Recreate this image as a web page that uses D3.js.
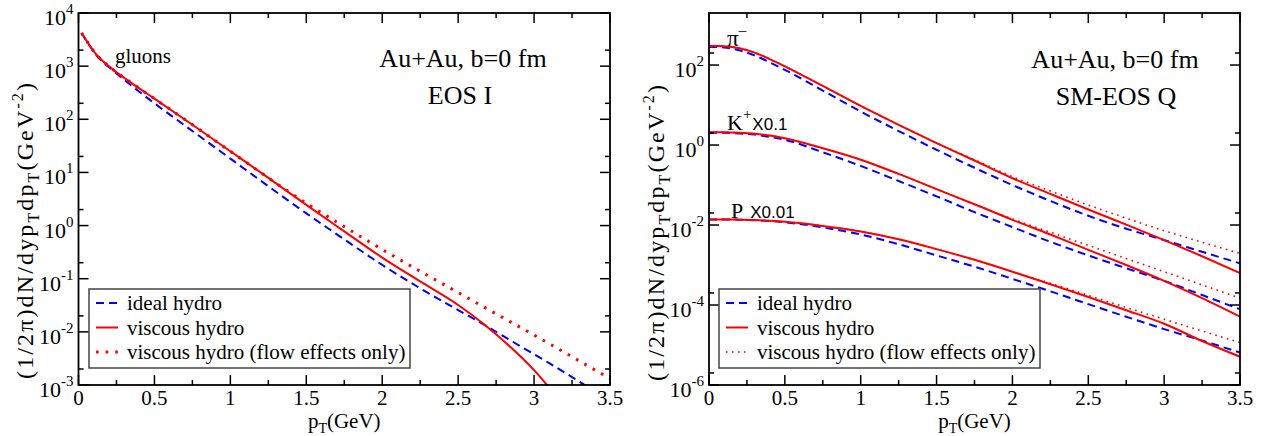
<!DOCTYPE html>
<html>
<head>
<meta charset="utf-8">
<script src="https://cdn.jsdelivr.net/npm/d3@7"></script>
<style>
  body { margin: 0; background: #fff; }
</style>
</head>
<body>
<svg width="1268" height="436" font-family="'Liberation Serif', 'Times New Roman', 'DejaVu Serif', serif"></svg>
<script>
// ===== DATA =====

// left panel: gluons, EOS I
var gluonPt    = [0.02, 0.12, 0.23, 0.35, 0.5, 0.75, 1, 1.25, 1.5, 1.75, 2, 2.25, 2.5, 2.68, 2.85, 3, 3.1, 3.25, 3.5];
var gluonIdeal = [4200, 1580, 813, 427, 200, 60.3, 18.2, 5.5, 1.7, 0.55, 0.182, 0.066, 0.0257, 0.0132, 0.00676, 0.0038, 0.00257, 0.00141, 5.0e-4];
var gluonVisc  = [4200, 1620, 850, 480, 245, 79, 25, 7.9, 2.45, 0.78, 0.25, 0.089, 0.032, 0.0132, 0.0050, 0.0019, 8.9e-4, null, null];
var gluonFlow  = [4200, 1620, 850, 480, 245, 79, 25, 7.9, 2.63, 0.955, 0.355, 0.138, 0.055, 0.0282, 0.0151, 0.0087, 0.006, 0.0034, 0.00132];

// right panel: identified hadrons, SM-EOS Q
var hadronPt   = [0, 0.1, 0.2, 0.3, 0.4, 0.5, 0.75, 1, 1.25, 1.5, 1.75, 2, 2.25, 2.5, 2.75, 3, 3.25, 3.5];
var pionIdeal  = [288, 275, 234, 174, 117, 76, 23, 6.9, 2.24, 0.76, 0.27, 0.10, 0.040, 0.017, 0.0081, 0.0042, 0.00214, 0.0011];
var pionVisc   = [302, 295, 263, 204, 141, 93, 30, 9.5, 3.2, 1.12, 0.41, 0.148, 0.060, 0.0245, 0.0102, 0.0042, 0.00166, 6.3e-4];
var pionFlow   = [302, 295, 263, 204, 141, 93, 30, 9.5, 3.2, 1.12, 0.43, 0.162, 0.071, 0.0316, 0.0148, 0.0072, 0.0037, 0.00195];
var kaonIdeal  = [2.04, 2.02, 1.95, 1.82, 1.6, 1.35, 0.66, 0.30, 0.126, 0.052, 0.021, 0.0089, 0.0038, 0.00174, 8.3e-4, 4.0e-4, 1.78e-4, 7.8e-5];
var kaonVisc   = [2.09, 2.08, 2.02, 1.91, 1.72, 1.48, 0.83, 0.43, 0.19, 0.079, 0.033, 0.0135, 0.0058, 0.0024, 0.0010, 4.0e-4, 1.48e-4, 5.1e-5];
var kaonFlow   = [2.09, 2.08, 2.02, 1.91, 1.72, 1.48, 0.83, 0.43, 0.19, 0.079, 0.033, 0.0141, 0.0066, 0.0031, 0.00145, 6.8e-4, 3.2e-4, 1.48e-4];
var protonIdeal = [0.0138, 0.0138, 0.0136, 0.0132, 0.0126, 0.0117, 0.0087, 0.0058, 0.0033, 0.00174, 9.1e-4, 4.5e-4, 2.2e-4, 1.05e-4, 5.1e-5, 2.5e-5, 1.29e-5, 6.5e-6];
var protonVisc  = [0.0138, 0.0138, 0.0136, 0.0133, 0.0127, 0.0120, 0.0095, 0.0069, 0.0044, 0.0025, 0.00135, 6.8e-4, 3.3e-4, 1.58e-4, 7.4e-5, 3.4e-5, 1.26e-5, 5.1e-6];
var protonFlow  = [0.0138, 0.0138, 0.0136, 0.0133, 0.0127, 0.0120, 0.0095, 0.0069, 0.0044, 0.0025, 0.00135, 6.8e-4, 3.5e-4, 1.74e-4, 8.7e-5, 4.4e-5, 2.24e-5, 1.15e-5];

// axes
var xTicks = [0, 0.5, 1, 1.5, 2, 2.5, 3, 3.5];
var leftExp = [-3, -2, -1, 0, 1, 2, 3, 4];
var rightExp = [-6, -4, -2, 0, 2];
var legendLabels = ["ideal hydro", "viscous hydro", "viscous hydro (flow effects only)"];

var svg = d3.select("svg");
var SANS = "'Liberation Sans', Arial, sans-serif";

function zip(xs, ys) {
  return xs.map(function(x, i) { return {x: x, y: ys[i]}; });
}

/* ===== PANEL ===== */
function panel(opt) {
  var x = d3.scaleLinear().domain([0, 3.5]).range([opt.left, opt.right]);
  var y = d3.scaleLog().domain(opt.yDomain).range([opt.bottom, opt.top]);
  var g = svg.append("g");

  g.append("clipPath").attr("id", opt.id)
    .append("rect")
      .attr("x", opt.left).attr("y", opt.top)
      .attr("width", opt.right - opt.left).attr("height", opt.bottom - opt.top);

  var line = d3.line()
      .defined(function(d) { return d.y != null; })
      .x(function(d) { return x(d.x); })
      .y(function(d) { return y(d.y); })
      .curve(d3.curveMonotoneX);

  var curves = g.append("g").attr("clip-path", "url(#" + opt.id + ")");
  opt.series.forEach(function(s) {
    curves.append("path")
      .datum(zip(s.x, s.y))
      .attr("fill", "none")
      .attr("stroke", s.color)
      .attr("stroke-width", s.width)
      .attr("stroke-dasharray", s.dash)
      .attr("d", line);
  });

  // x ticks, bottom + top, inward
  var minorX = d3.range(0.25, 3.5, 0.5);
  [opt.bottom, opt.top].forEach(function(yy, k) {
    var dir = k === 0 ? -1 : 1;
    g.selectAll(null).data(xTicks).enter().append("line")
      .attr("x1", x).attr("x2", x)
      .attr("y1", yy).attr("y2", yy + dir * 10)
      .attr("stroke", "#000").attr("stroke-width", 1.5);
    g.selectAll(null).data(minorX).enter().append("line")
      .attr("x1", x).attr("x2", x)
      .attr("y1", yy).attr("y2", yy + dir * 5)
      .attr("stroke", "#000").attr("stroke-width", 1.5);
  });

  // y ticks, left + right, inward
  var majorY = opt.yMajor.map(function(e) { return Math.pow(10, e); });
  var minorY = opt.yMajor.map(function(e) { return 2 * Math.pow(10, e); })
      .filter(function(v) { return v < opt.yDomain[1]; });
  [opt.left, opt.right].forEach(function(xx, k) {
    var dir = k === 0 ? 1 : -1;
    g.selectAll(null).data(majorY).enter().append("line")
      .attr("x1", xx).attr("x2", xx + dir * 10)
      .attr("y1", y).attr("y2", y)
      .attr("stroke", "#000").attr("stroke-width", 1.5);
    g.selectAll(null).data(minorY).enter().append("line")
      .attr("x1", xx).attr("x2", xx + dir * 5)
      .attr("y1", y).attr("y2", y)
      .attr("stroke", "#000").attr("stroke-width", 1.5);
  });

  g.append("rect")
    .attr("x", opt.left).attr("y", opt.top)
    .attr("width", opt.right - opt.left).attr("height", opt.bottom - opt.top)
    .attr("fill", "none").attr("stroke", "#000").attr("stroke-width", 1.8);

  // tick labels
  g.selectAll(null).data(xTicks).enter().append("text")
    .attr("x", x).attr("y", opt.bottom + 20)
    .attr("text-anchor", "middle")
    .attr("font-size", 21)
    .text(function(d) { return d; });

  var yl = g.selectAll(null).data(opt.yMajor).enter().append("text")
    .attr("x", opt.left - 5)
    .attr("y", function(e) { return y(Math.pow(10, e)) + 12; })
    .attr("text-anchor", "end")
    .attr("font-size", 22);
  yl.append("tspan").text("10");
  yl.append("tspan").attr("dy", -11).attr("font-size", 15).text(function(e) { return e; });

  // axis titles
  var xt = g.append("text")
    .attr("x", (opt.left + opt.right) / 2).attr("y", opt.bottom + 43)
    .attr("text-anchor", "middle").attr("font-size", 21);
  xt.append("tspan").text("p");
  xt.append("tspan").attr("dy", 5).attr("font-size", 14).text("T");
  xt.append("tspan").attr("dy", -5).text("(GeV)");

  // long rotated title, stretched to the reference's length
  var yt = g.append("text")
    .attr("transform", "translate(" + opt.yTitleX + "," + opt.yTitleY + ") rotate(-90)")
    .attr("text-anchor", "middle").attr("font-size", 24)
    .attr("textLength", 296).attr("lengthAdjust", "spacing");
  yt.append("tspan").text("(1/2\u03c0)dN/dyp");
  yt.append("tspan").attr("dy", 6).attr("font-size", 16).text("T");
  yt.append("tspan").attr("dy", -6).text("dp");
  yt.append("tspan").attr("dy", 6).attr("font-size", 16).text("T");
  yt.append("tspan").attr("dy", -6).text("(GeV");
  yt.append("tspan").attr("dy", -10).attr("font-size", 16).text("-2");
  yt.append("tspan").attr("dy", 10).text(")");

  // legend
  var lg = g.append("g");
  lg.append("rect")
    .attr("x", opt.legX).attr("y", 289)
    .attr("width", 321).attr("height", 79)
    .attr("fill", "#fff").attr("stroke", "#444").attr("stroke-width", 1.5);
  opt.legendStyles.forEach(function(s, i) {
    var ly = 303 + i * 24.5;
    lg.append("line")
      .attr("x1", opt.legX + 7).attr("x2", opt.legX + 29)
      .attr("y1", ly).attr("y2", ly)
      .attr("stroke", s.color).attr("stroke-width", s.width)
      .attr("stroke-dasharray", s.dash);
    lg.append("text")
      .attr("x", opt.legX + 38).attr("y", ly + 7)
      .attr("font-size", 21)
      .text(legendLabels[i]);
  });

  return {x: x, y: y, g: g};
}

var bigDot = "2.6,7";
var smallDot = "1.6,4.4";
var dashed = "8,5";

var leftP = panel({
  id: "clipL", left: 78.5, right: 610, top: 13, bottom: 385,
  yDomain: [1e-3, 1e4], yMajor: leftExp,
  yTitleX: 33, yTitleY: 231, legX: 89,
  series: [
    {x: gluonPt, y: gluonIdeal, color: "#0000ff", width: 2, dash: dashed},
    {x: gluonPt, y: gluonFlow, color: "#ff0000", width: 3, dash: bigDot},
    {x: gluonPt, y: gluonVisc, color: "#ff0000", width: 2, dash: null}
  ],
  legendStyles: [
    {color: "#0000ff", width: 2, dash: dashed},
    {color: "#ff0000", width: 2, dash: null},
    {color: "#ff0000", width: 3, dash: bigDot}
  ]
});

var rightP = panel({
  id: "clipR", left: 709, right: 1240, top: 13, bottom: 385,
  yDomain: [1e-6, 2e3], yMajor: rightExp,
  yTitleX: 664, yTitleY: 233, legX: 719,
  series: [
    {x: hadronPt, y: pionIdeal, color: "#0000ff", width: 2, dash: dashed},
    {x: hadronPt, y: pionFlow, color: "#ff0000", width: 1.6, dash: smallDot},
    {x: hadronPt, y: pionVisc, color: "#ff0000", width: 2, dash: null},
    {x: hadronPt, y: kaonIdeal, color: "#0000ff", width: 2, dash: dashed},
    {x: hadronPt, y: kaonFlow, color: "#ff0000", width: 1.6, dash: smallDot},
    {x: hadronPt, y: kaonVisc, color: "#ff0000", width: 2, dash: null},
    {x: hadronPt, y: protonIdeal, color: "#0000ff", width: 2, dash: dashed},
    {x: hadronPt, y: protonFlow, color: "#ff0000", width: 1.6, dash: smallDot},
    {x: hadronPt, y: protonVisc, color: "#ff0000", width: 2, dash: null}
  ],
  legendStyles: [
    {color: "#0000ff", width: 2, dash: dashed},
    {color: "#ff0000", width: 2, dash: null},
    {color: "#ff0000", width: 1.6, dash: smallDot}
  ]
});

/* ===== ANNOTATIONS ===== */
leftP.g.append("text").attr("x", 115).attr("y", 63).attr("font-size", 21).text("gluons");
leftP.g.append("text").attr("x", 463).attr("y", 67).attr("text-anchor", "middle").attr("font-size", 26).text("Au+Au, b=0 fm");
leftP.g.append("text").attr("x", 460).attr("y", 104).attr("text-anchor", "middle").attr("font-size", 26).text("EOS I");

rightP.g.append("text").attr("x", 1115).attr("y", 68).attr("text-anchor", "middle").attr("font-size", 26).text("Au+Au, b=0 fm");
rightP.g.append("text").attr("x", 1116).attr("y", 105).attr("text-anchor", "middle").attr("font-size", 26).text("SM-EOS Q");

var pi = rightP.g.append("text").attr("x", 727).attr("y", 46).attr("font-size", 23);
pi.append("tspan").text("\u03c0");
pi.append("tspan").attr("dy", -11).attr("font-size", 15).text("\u2013");

var ka = rightP.g.append("text").attr("x", 727).attr("y", 130).attr("font-size", 22);
ka.append("tspan").text("K");
ka.append("tspan").attr("dy", -11).attr("font-size", 15).text("+");
ka.append("tspan").attr("dy", 11).attr("dx", 1).attr("font-family", SANS).attr("font-size", 17).text("X0.1");

var pr = rightP.g.append("text").attr("x", 731).attr("y", 218).attr("font-size", 22);
pr.append("tspan").text("P");
pr.append("tspan").attr("dx", 7).attr("font-family", SANS).attr("font-size", 17).text("X0.01");
</script>
</body>
</html>
